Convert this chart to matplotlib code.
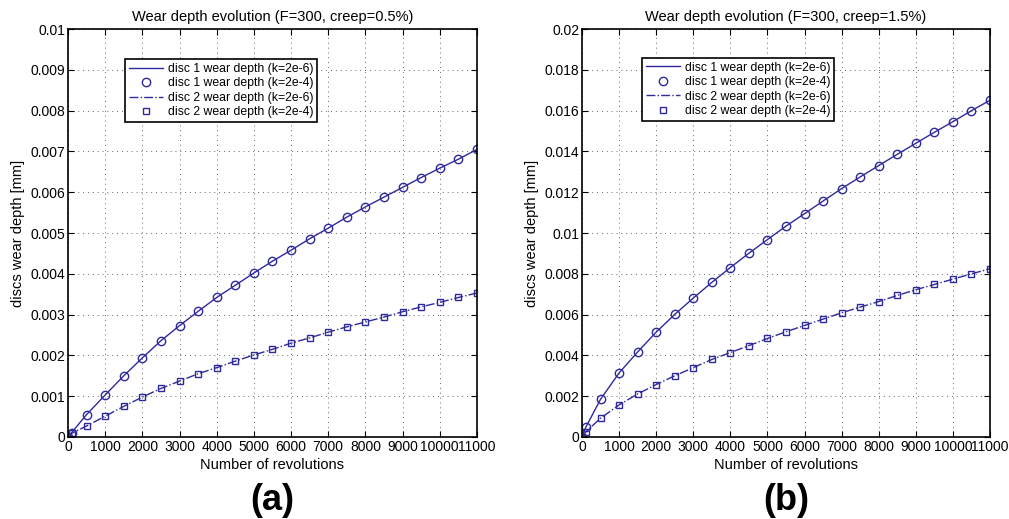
import matplotlib
matplotlib.use("Agg")
import matplotlib.pyplot as plt
import numpy as np

plt.rcParams['font.family'] = ['Liberation Sans', 'DejaVu Sans']

revs = [0, 100, 500, 1000, 1500, 2000, 2500, 3000, 3500, 4000, 4500, 5000, 5500,
        6000, 6500, 7000, 7500, 8000, 8500, 9000, 9500, 10000, 10500, 11000]

# Panel (a): creep = 0.5 %
a_disc1 = [0, 0.00011, 0.00055, 0.00103, 0.00150, 0.00194, 0.00236, 0.00273, 0.00308,
           0.00342, 0.00372, 0.00402, 0.00431, 0.00458, 0.00486, 0.00512, 0.00539,
           0.00564, 0.00588, 0.00612, 0.00636, 0.00659, 0.00681, 0.00705]
a_disc2 = [0, 0.00009, 0.00027, 0.00051, 0.00075, 0.00098, 0.00119, 0.00137, 0.00155,
           0.00170, 0.00186, 0.00201, 0.00215, 0.00230, 0.00243, 0.00257, 0.00270,
           0.00282, 0.00294, 0.00307, 0.00319, 0.00330, 0.00342, 0.00353]

# Panel (b): creep = 1.5 %
b_disc1 = [0, 0.00047, 0.00185, 0.00314, 0.00417, 0.00514, 0.00601, 0.00681, 0.00758,
           0.00831, 0.00901, 0.00968, 0.01034, 0.01095, 0.01157, 0.01218, 0.01275,
           0.01331, 0.01386, 0.01440, 0.01494, 0.01546, 0.01600, 0.01651]
b_disc2 = [0, 0.00025, 0.00092, 0.00157, 0.00211, 0.00257, 0.00300, 0.00340, 0.00380,
           0.00414, 0.00448, 0.00483, 0.00516, 0.00547, 0.00578, 0.00609, 0.00637,
           0.00664, 0.00694, 0.00722, 0.00748, 0.00774, 0.00800, 0.00825]

titles = ["Wear depth evolution (F=300, creep=0.5%)", "Wear depth evolution (F=300, creep=1.5%)"]
ymaxes = [0.01, 0.02]
ysteps = [0.001, 0.002]
panel_labels = ["(a)", "(b)"]
legend_labels = ["disc 1 wear depth (k=2e-6)", "disc 1 wear depth (k=2e-4)",
                 "disc 2 wear depth (k=2e-6)", "disc 2 wear depth (k=2e-4)"]
xticks = list(range(0, 11001, 1000))

color = '#2f2a9c'

fig = plt.figure(figsize=(10.09, 5.19), dpi=100)
axes_rects = [[0.0674, 0.158, 0.4053, 0.786], [0.5768, 0.158, 0.4044, 0.786]]
legend_anchor = [(0.139, 0.926), (0.147, 0.929)]
data = [(a_disc1, a_disc2), (b_disc1, b_disc2)]

for i in range(2):
    ax = fig.add_axes(axes_rects[i])
    d1, d2 = data[i]
    ax.plot(revs, d1, '-', color=color, lw=1.0, label=legend_labels[0])
    ax.plot(revs, d1, 'o', color=color, mfc='none', ms=6, mew=1.0, label=legend_labels[1])
    ax.plot(revs, d2, '-.', color=color, lw=1.0, label=legend_labels[2])
    ax.plot(revs, d2, 's', color=color, mfc='none', ms=4.5, mew=1.0, label=legend_labels[3])
    ax.set_xlim(0, 11000)
    ax.set_ylim(0, ymaxes[i])
    ax.set_xticks(xticks)
    yt = np.round(np.arange(0, ymaxes[i] + 1e-9, ysteps[i]), 4)
    ax.set_yticks(yt)
    ax.set_yticklabels(['0' if v == 0 else ('%g' % v) for v in yt])
    ax.grid(True, linestyle=(0, (1, 4)), color='#666666', lw=0.7)
    ax.tick_params(direction='in', top=True, right=True, labelsize=10, length=4, pad=2)
    for s in ax.spines.values():
        s.set_linewidth(1.2)
    ax.set_title(titles[i], fontsize=10.5, pad=6)
    ax.set_xlabel("Number of revolutions", fontsize=10.5, labelpad=3)
    ax.set_ylabel("discs wear depth [mm]", fontsize=10.5, labelpad=4)
    leg = ax.legend(loc='upper left', bbox_to_anchor=legend_anchor[i], fontsize=8.8,
                    frameon=True, fancybox=False, edgecolor='black', framealpha=1,
                    handlelength=2.8, borderpad=0.3, labelspacing=0.2, handletextpad=0.4,
                    borderaxespad=0)
    leg.get_frame().set_linewidth(1.2)
    cx = axes_rects[i][0] + axes_rects[i][2] / 2
    fig.text(cx, 0.036, panel_labels[i], ha='center', va='center', fontsize=26, fontweight='bold')

fig.savefig('out.png', dpi=100)
